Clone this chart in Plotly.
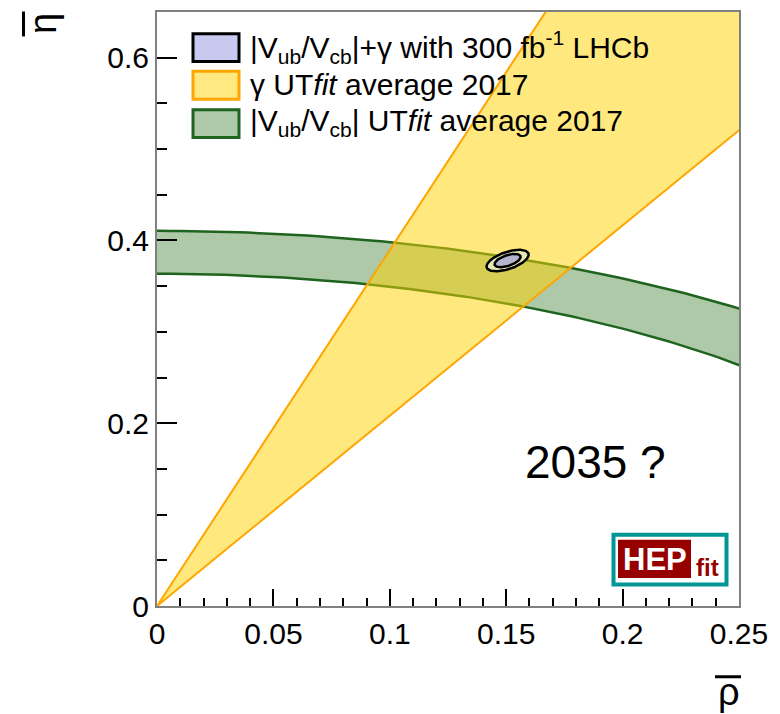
import numpy as np
import plotly.graph_objects as go

# ---- Constraints on the unitarity-triangle apex (rho-bar, eta-bar) ----
gamma_band_deg = [64.35, 75.6]      # gamma, UTfit average 2017
rb_band = [0.3635, 0.4105]          # |Vub/Vcb| circle radius, UTfit average 2017
future_center = [0.1506, 0.3780]    # |Vub/Vcb| + gamma with 300 fb^-1 LHCb
future_sigma = [0.0037, 0.0048]
future_corr = 0.55
contour_chi2 = [5.99, 2.30]         # 95% and 68% two-dimensional contours

x_tickvals = [0, 0.05, 0.1, 0.15, 0.2, 0.25]
x_ticktext = ["0", "0.05", "0.1", "0.15", "0.2", "0.25"]
y_tickvals = [0, 0.2, 0.4, 0.6]
y_ticktext = ["0", "0.2", "0.4", "0.6"]

legend_labels = [
    "|V<sub>ub</sub>/V<sub>cb</sub>|+γ with 300 fb<sup>-1</sup> LHCb",
    "γ UT<i>fit</i> average 2017",
    "|V<sub>ub</sub>/V<sub>cb</sub>| UT<i>fit</i> average 2017",
]
legend_fill = ["rgb(200,200,240)", "rgb(255,233,128)", "rgb(173,201,167)"]
legend_edge = ["black", "rgb(255,165,0)", "rgb(30,100,30)"]

FONT = "Liberation Sans, Arial, sans-serif"
W, H = 780, 714
ML, MR, MT, MB = 157, 41, 10, 108
PW, PH = W - ML - MR, H - MT - MB


def px(x):
    return (x - ML) / PW


def py(y):
    return (H - MB - y) / PH


fig = go.Figure()

# |Vub/Vcb| annulus (circle centred on the origin)
phi = np.linspace(0, np.pi / 2, 200)
ring_x = np.concatenate([rb_band[1] * np.cos(phi), rb_band[0] * np.cos(phi[::-1])])
ring_y = np.concatenate([rb_band[1] * np.sin(phi), rb_band[0] * np.sin(phi[::-1])])
fig.add_trace(go.Scatter(x=ring_x, y=ring_y, fill="toself", mode="lines",
                         fillcolor="rgb(173,201,167)", line=dict(width=0),
                         hoverinfo="skip"))
for r in rb_band:
    fig.add_trace(go.Scatter(x=r * np.cos(phi), y=r * np.sin(phi), mode="lines",
                             line=dict(color="rgb(30,100,30)", width=2.5),
                             hoverinfo="skip"))

# gamma wedge from the origin
g = np.radians(np.linspace(gamma_band_deg[0], gamma_band_deg[1], 50))
R = 2.0
wedge_x = np.concatenate([[0], R * np.cos(g), [0]])
wedge_y = np.concatenate([[0], R * np.sin(g), [0]])
fig.add_trace(go.Scatter(x=wedge_x, y=wedge_y, fill="toself", mode="lines",
                         fillcolor="rgba(255,212,0,0.5)", line=dict(width=0),
                         hoverinfo="skip"))
for gd in gamma_band_deg:
    a = np.radians(gd)
    fig.add_trace(go.Scatter(x=[0, R * np.cos(a)], y=[0, R * np.sin(a)], mode="lines",
                             line=dict(color="rgb(255,165,0)", width=2),
                             hoverinfo="skip"))

# projected combined constraint: correlated Gaussian contours
sx, sy = future_sigma
cov = np.array([[sx**2, future_corr * sx * sy], [future_corr * sx * sy, sy**2]])
evals, evecs = np.linalg.eigh(cov)
t = np.linspace(0, 2 * np.pi, 200)
unit = np.vstack([np.cos(t), np.sin(t)])
ell_fill = ["rgb(232,232,180)", "rgb(180,180,204)"]
for chi2, fc in zip(contour_chi2, ell_fill):
    pts = evecs @ np.diag(np.sqrt(evals * chi2)) @ unit
    fig.add_trace(go.Scatter(x=future_center[0] + pts[0], y=future_center[1] + pts[1],
                             fill="toself", mode="lines", fillcolor=fc,
                             line=dict(color="black", width=2.5), hoverinfo="skip"))

shapes = []
annotations = []

# legend
row_top = [31.7, 69.5, 108.0]
row_h = 28.0
for lab, fc, ec, top in zip(legend_labels, legend_fill, legend_edge, row_top):
    shapes.append(dict(type="rect", xref="paper", yref="paper",
                       x0=px(193), x1=px(239), y0=py(top + row_h), y1=py(top),
                       fillcolor=fc, line=dict(color=ec, width=3)))
    annotations.append(dict(text=lab, xref="paper", yref="paper",
                            x=px(248), y=py(top + row_h / 2 - 1), xanchor="left",
                            yanchor="middle", showarrow=False,
                            font=dict(family=FONT, size=30, color="black")))

# "2035 ?"
annotations.append(dict(text="2035 ?", xref="paper", yref="paper",
                        x=px(523), y=py(462), xanchor="left", yanchor="middle",
                        showarrow=False, font=dict(family=FONT, size=46, color="black")))

# HEPfit logo
shapes.append(dict(type="rect", xref="paper", yref="paper",
                   x0=px(613.5), x1=px(726.5), y0=py(584.5), y1=py(534.5),
                   fillcolor="white", line=dict(color="rgb(0,150,150)", width=4)))
shapes.append(dict(type="rect", xref="paper", yref="paper",
                   x0=px(618), x1=px(691), y0=py(578), y1=py(539.5),
                   fillcolor="rgb(150,0,0)", line=dict(width=0)))
annotations.append(dict(text="<b>HEP</b>", xref="paper", yref="paper",
                        x=px(654.5), y=py(559), xanchor="center", yanchor="middle",
                        showarrow=False, font=dict(family=FONT, size=31, color="white")))
annotations.append(dict(text="<b>fit</b>", xref="paper", yref="paper",
                        x=px(707.5), y=py(567), xanchor="center", yanchor="middle",
                        showarrow=False, font=dict(family=FONT, size=24, color="rgb(150,0,0)")))

# axis titles: rho-bar and eta-bar
annotations.append(dict(text="ρ", xref="paper", yref="paper",
                        x=px(728.5), y=py(692), xanchor="center", yanchor="middle",
                        showarrow=False, font=dict(family=FONT, size=38, color="black")))
shapes.append(dict(type="line", xref="paper", yref="paper",
                   x0=px(715), x1=px(741), y0=py(677), y1=py(677),
                   line=dict(color="black", width=3)))
annotations.append(dict(text="η", xref="paper", yref="paper",
                        x=px(43), y=py(22), xanchor="center", yanchor="middle",
                        textangle=-90, showarrow=False,
                        font=dict(family=FONT, size=38, color="black")))
shapes.append(dict(type="line", xref="paper", yref="paper",
                   x0=px(23.5), x1=px(23.5), y0=py(34.5), y1=py(9.5),
                   line=dict(color="black", width=3)))

axis_common = dict(showgrid=False, zeroline=False, showline=True, linecolor="rgb(128,128,128)",
                   linewidth=2, mirror=True, ticks="inside", tickcolor="black", tickwidth=1.5,
                   tickfont=dict(family=FONT, size=30, color="black"), fixedrange=True)

fig.update_layout(
    width=W, height=H,
    margin=dict(l=ML, r=MR, t=MT, b=MB),
    paper_bgcolor="white", plot_bgcolor="white",
    showlegend=False,
    shapes=shapes, annotations=annotations,
    xaxis=dict(range=[0, 0.25], tickvals=x_tickvals, ticktext=x_ticktext, ticklen=17,
               minor=dict(ticks="inside", dtick=0.01, tick0=0, ticklen=8,
                          tickcolor="black", tickwidth=1.5, showgrid=False),
               **axis_common),
    yaxis=dict(range=[0, 0.65], tickvals=y_tickvals, ticktext=y_ticktext, ticklen=20,
               minor=dict(ticks="inside", dtick=0.05, tick0=0, ticklen=10,
                          tickcolor="black", tickwidth=1.5, showgrid=False),
               **axis_common),
)

fig.write_html("out.html")
